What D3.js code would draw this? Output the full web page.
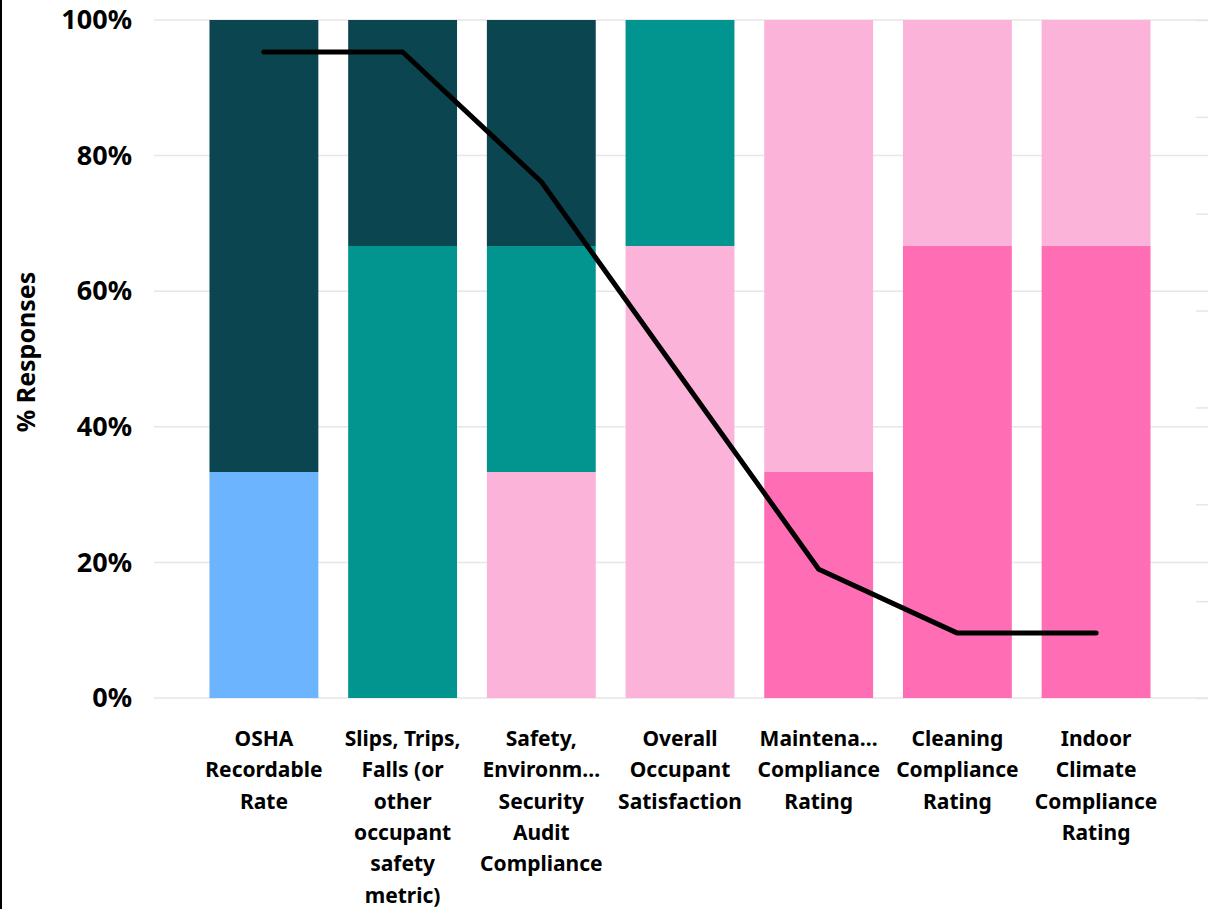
<!DOCTYPE html>
<html>
<head>
<meta charset="utf-8">
<script src="https://cdn.jsdelivr.net/npm/d3@7"></script>
<style>
  html, body { margin: 0; padding: 0; background: #fff; }
  svg { display: block; }
  text { font-family: "Noto Sans", "Open Sans", sans-serif; font-weight: 700; fill: #000; }
</style>
</head>
<body>
<svg id="chart" width="1225" height="909"></svg>
<script>
// ---- data ----
const categories = ["OSHA Recordable Rate", "Slips, Trips, Falls (or other occupant safety metric)", "Safety, Environmental, Security Audit Compliance", "Overall Occupant Satisfaction", "Maintenance Compliance Rating", "Cleaning Compliance Rating", "Indoor Climate Compliance Rating"];
const categoryLabelLines = [
  ["OSHA", "Recordable", "Rate"],
  ["Slips, Trips,", "Falls (or", "other", "occupant", "safety", "metric)"],
  ["Safety,", "Environm…", "Security", "Audit", "Compliance"],
  ["Overall", "Occupant", "Satisfaction"],
  ["Maintena…", "Compliance", "Rating"],
  ["Cleaning", "Compliance", "Rating"],
  ["Indoor", "Climate", "Compliance", "Rating"]
];
const seriesKeys = ["lightBlue", "hotPink", "lightPink", "teal", "darkTeal"];
const lightBlue = [33.33, 0, 0, 0, 0, 0, 0];
const hotPink   = [0, 0, 0, 0, 33.33, 66.67, 66.67];
const lightPink = [0, 0, 33.33, 66.67, 66.67, 33.33, 33.33];
const teal      = [0, 66.67, 33.33, 33.33, 0, 0, 0];
const darkTeal  = [66.67, 33.33, 33.34, 0, 0, 0, 0];
const lineValues = [6.67, 6.67, 5.33, 3.33, 1.33, 0.67, 0.67];
const leftTicks = [0, 20, 40, 60, 80, 100];
const rightTicks = [0, 1, 2, 3, 4, 5, 6, 7];
const yAxisTitle = "% Responses";

const colors = { lightBlue: "#6db4fe", hotPink: "#ff6eb4", lightPink: "#fbb3d9", teal: "#02948f", darkTeal: "#0b4650" };

// ---- build ----
const table = categories.map((c, i) => ({
  category: c, lightBlue: lightBlue[i], hotPink: hotPink[i], lightPink: lightPink[i], teal: teal[i], darkTeal: darkTeal[i]
}));

const svg = d3.select("#chart");
const plotLeft = 154, plotRight = 1208, plotTop = 20, plotBottom = 698;

const x = d3.scaleBand().domain(categories).range([plotLeft, plotRight - 2]).paddingInner(0.215).paddingOuter(0.4);
const y = d3.scaleLinear().domain([0, 100]).range([plotBottom, plotTop]);
const yR = d3.scaleLinear().domain([0, 7]).range([plotBottom, plotTop]);

// frame left border
svg.append("line").attr("x1", 1).attr("x2", 1).attr("y1", 0).attr("y2", 909).attr("stroke", "#000").attr("stroke-width", 2);

// gridlines
svg.append("g").selectAll("line").data(leftTicks).join("line")
  .attr("x1", plotLeft).attr("x2", plotRight)
  .attr("y1", d => y(d)).attr("y2", d => y(d))
  .attr("stroke", "#e6e6e6").attr("stroke-width", 1.5);

// right axis tick marks (no labels)
const rAxis = d3.axisRight(yR).tickValues(rightTicks).tickSize(12).tickFormat("");
const rG = svg.append("g").attr("transform", `translate(${plotRight - 12},0)`).call(rAxis);
rG.select(".domain").remove();
rG.selectAll(".tick line").attr("stroke", "#e6e6e6").attr("stroke-width", 1.5);

// left axis labels
const lAxis = d3.axisLeft(y).tickValues(leftTicks).tickSize(0).tickPadding(0).tickFormat(d => d + "%");
const lG = svg.append("g").attr("transform", `translate(${132},0)`).call(lAxis);
lG.select(".domain").remove();
lG.selectAll("text").attr("font-size", 27).attr("font-family", "'Noto Sans', sans-serif").attr("font-weight", 700).attr("fill", "#000");

// y title
svg.append("text").attr("transform", `translate(35,352) rotate(-90)`)
  .attr("text-anchor", "middle").attr("font-size", 25).text(yAxisTitle);

// stacked bars
const stacked = d3.stack().keys(seriesKeys)(table);
svg.append("g").selectAll("g").data(stacked).join("g")
  .attr("fill", d => colors[d.key])
  .selectAll("rect").data(d => d).join("rect")
  .attr("x", d => x(d.data.category))
  .attr("width", x.bandwidth())
  .attr("y", d => y(d[1]))
  .attr("height", d => Math.max(0, y(d[0]) - y(d[1])));

// x labels
const xAxis = d3.axisBottom(x).tickSize(0).tickFormat("");
const xG = svg.append("g").attr("transform", `translate(0,${plotBottom})`).call(xAxis);
xG.select(".domain").remove();
xG.selectAll(".tick").each(function(d, i) {
  const t = d3.select(this).append("text").attr("text-anchor", "middle").attr("font-size", 21)
    .attr("fill", "#000").attr("font-family", "'Noto Sans', sans-serif").attr("font-weight", 700);
  categoryLabelLines[i].forEach((ln, j) => {
    t.append("tspan").attr("x", 0).attr("y", 48 + j * 31.3).text(ln);
  });
});

// line
const line = d3.line().x((d, i) => x(categories[i]) + x.bandwidth() / 2).y(d => yR(d));
svg.append("path").datum(lineValues).attr("d", line)
  .attr("fill", "none").attr("stroke", "#000").attr("stroke-width", 5)
  .attr("stroke-linejoin", "round").attr("stroke-linecap", "round");
</script>
</body>
</html>
